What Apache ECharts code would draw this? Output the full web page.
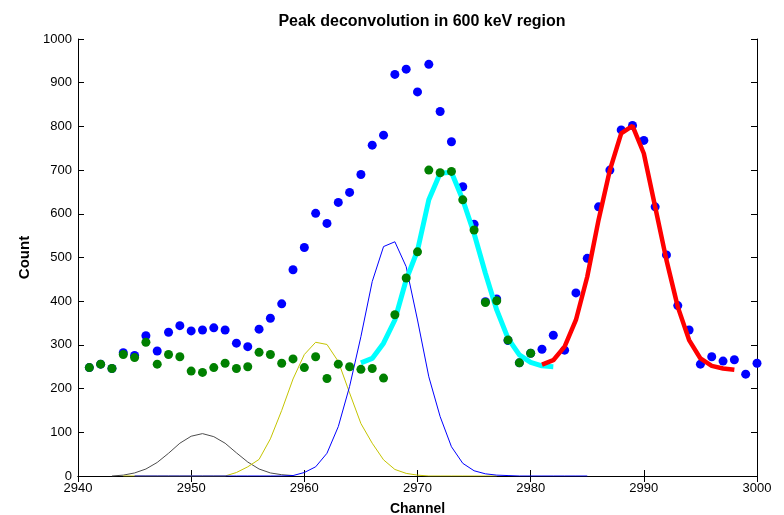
<!DOCTYPE html>
<html lang="en">
<head>
    <meta charset="utf-8">
    <title>Peak deconvolution in 600 keV region</title>
    <script src="https://cdn.jsdelivr.net/npm/echarts@6/dist/echarts.min.js"></script>
    <style>
        html, body {
            margin: 0;
            padding: 0;
            background: #ffffff;
        }
        #chart {
            width: 784px;
            height: 515px;
        }
    </style>
</head>
<body>
<div id="chart"></div>
<script>
    // measured spectrum (blue dots), channels 2941..3000
    var measuredStart = 2941;
    var measured = [248, 256, 246, 282, 276, 321, 286, 329, 344, 332,
        334, 339, 334, 304, 296, 336, 361, 394, 472, 523,
        601, 578, 626, 649, 690, 757, 780, 919, 931, 879,
        942, 834, 765, 662, 576, 399, 405, 310, 259, 281,
        290, 322, 288, 419, 498, 616, 700, 792, 802, 768,
        616, 506, 390, 334, 256, 273, 263, 266, 233, 258];

    // residual after subtracting the fitted peaks (green dots), channels 2941..2980
    var residualStart = 2941;
    var residual = [248, 256, 246, 278, 271, 306, 256, 278, 273, 240,
        237, 248, 258, 246, 250, 283, 278, 258, 268, 248,
        273, 223, 256, 250, 244, 246, 224, 369, 453, 513,
        700, 694, 697, 632, 563, 397, 401, 311, 259, 281];

    // fitted components (thin lines)
    var grayStart = 2943;
    var grayPeak = [0, 2, 7, 16, 31, 52, 75, 91, 97, 90, 75, 53, 32, 16, 7, 3, 1];

    var yellowStart = 2944;
    var yellowPeak = [0, 0, 0, 0, 0, 0, 0, 0, 0, 0, 8, 21, 38, 85, 150, 222, 278, 306, 301,
        262, 190, 120, 75, 37, 15, 6, 2, 0, 0, 0, 0, 0, 0, 0];

    var bluePeakStart = 2945;
    var bluePeak = [0, 0, 0, 0, 0, 0, 0, 0, 0, 0, 0, 0, 0, 0, 1, 8, 21, 52, 113, 205,
        319, 445, 525, 536, 479, 357, 227, 136, 67, 29, 12, 5, 2, 1, 0, 0, 0, 0, 0, 0, 0];

    // fits (thick lines)
    var cyanStart = 2965;
    var cyanFit = [259, 269, 304, 357, 449, 516, 632, 693, 695, 632, 555, 464, 380, 315, 277, 260, 252, 250];

    var redStart = 2981;
    var redFit = [255, 265, 296, 357, 456, 586, 700, 784, 801, 738, 616, 494, 387, 311, 269, 252, 246, 243];

    function pairs(start, values) {
        return values.map(function (v, i) { return [start + i, v]; });
    }

    var font = 'Liberation Sans, Arial, sans-serif';
    var tick = { show: true, inside: true, length: 6, lineStyle: { color: '#000' } };
    var line = { show: true, lineStyle: { color: '#000', width: 1 } };
    var plain = function (v) { return String(v); };

    var chart = echarts.init(document.getElementById('chart'));

    chart.setOption({
        animation: false,
        backgroundColor: '#ffffff',
        title: {
            text: 'Peak deconvolution in 600 keV region',
            left: 417,
            textAlign: 'center',
            top: 9,
            textStyle: { fontFamily: font, fontSize: 16, fontWeight: 'bold', color: '#000' }
        },
        grid: { left: 78, right: 27, top: 39, bottom: 39, containLabel: false, outerBoundsMode: 'none' },
        xAxis: [
            {
                type: 'value', min: 2940, max: 3000, interval: 10,
                name: 'Channel', nameLocation: 'middle', nameGap: 26,
                nameTextStyle: { fontFamily: font, fontSize: 14, fontWeight: 'bold', color: '#000' },
                axisLine: line, axisTick: tick, splitLine: { show: false },
                axisLabel: { fontFamily: font, fontSize: 13, color: '#000', margin: 6, formatter: plain }
            },
            {
                type: 'value', position: 'top', min: 2940, max: 3000, interval: 10,
                axisLine: line, axisTick: tick, splitLine: { show: false },
                axisLabel: { show: false }
            }
        ],
        yAxis: [
            {
                type: 'value', min: 0, max: 1000, interval: 100,
                name: 'Count', nameLocation: 'middle', nameGap: 36,
                nameTextStyle: { fontFamily: font, fontSize: 15, fontWeight: 'bold', color: '#000' },
                axisLine: line, axisTick: tick, splitLine: { show: false },
                axisLabel: { fontFamily: font, fontSize: 13, color: '#000', margin: 6, formatter: plain }
            },
            {
                type: 'value', position: 'right', min: 0, max: 1000, interval: 100,
                axisLine: line, axisTick: tick, splitLine: { show: false },
                axisLabel: { show: false }
            }
        ],
        series: [
            {
                type: 'scatter', data: pairs(measuredStart, measured),
                symbol: 'circle', symbolSize: 9,
                itemStyle: { color: '#0000ff', opacity: 1 }, z: 2
            },
            {
                type: 'line', data: pairs(grayStart, grayPeak), symbol: 'none',
                lineStyle: { color: '#4d4d4d', width: 1 }, z: 3
            },
            {
                type: 'line', data: pairs(yellowStart, yellowPeak), symbol: 'none',
                lineStyle: { color: '#c4c400', width: 1 }, z: 3
            },
            {
                type: 'line', data: pairs(bluePeakStart, bluePeak), symbol: 'none',
                lineStyle: { color: '#0000ff', width: 1 }, z: 3
            },
            {
                type: 'line', data: pairs(cyanStart, cyanFit), symbol: 'none',
                lineStyle: { color: '#00ffff', width: 5 }, z: 4
            },
            {
                type: 'line', data: pairs(redStart, redFit), symbol: 'none',
                lineStyle: { color: '#ff0000', width: 4.5 }, z: 4
            },
            {
                type: 'scatter', data: pairs(residualStart, residual),
                symbol: 'circle', symbolSize: 9,
                itemStyle: { color: '#008000', opacity: 1 }, z: 5
            }
        ]
    });
</script>
</body>
</html>
